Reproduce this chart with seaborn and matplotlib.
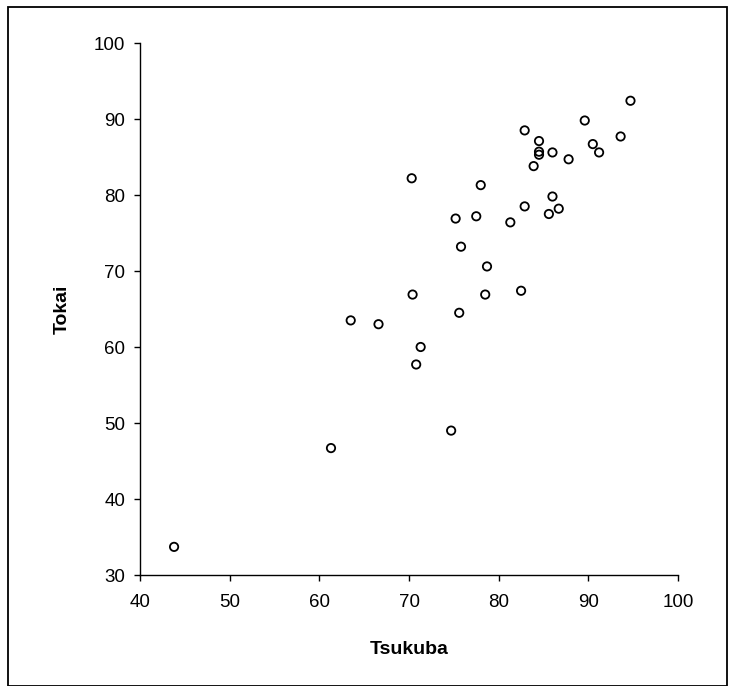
import matplotlib
matplotlib.use("Agg")
import matplotlib.pyplot as plt
import seaborn as sns
import pandas as pd
from matplotlib.patches import Rectangle

tsukuba = [43.8, 61.3, 63.5, 66.6, 70.4, 71.3, 70.8, 70.3, 74.7, 75.6,
           78.5, 82.5, 78.7, 75.8, 75.2, 77.5, 81.3, 78.0, 82.9, 86.7,
           85.6, 86.0, 83.9, 87.8, 84.5, 84.5, 84.5, 86.0, 82.9, 89.6,
           94.7, 93.6, 90.5, 91.2]
tokai = [33.7, 46.7, 63.5, 63.0, 66.9, 60.0, 57.7, 82.2, 49.0, 64.5,
         66.9, 67.4, 70.6, 73.2, 76.9, 77.2, 76.4, 81.3, 78.5, 78.2,
         77.5, 79.8, 83.8, 84.7, 87.1, 85.7, 85.3, 85.6, 88.5, 89.8,
         92.4, 87.7, 86.7, 85.6]
x_ticks = [40, 50, 60, 70, 80, 90, 100]
y_ticks = [30, 40, 50, 60, 70, 80, 90, 100]

df = pd.DataFrame({"Tsukuba": tsukuba, "Tokai": tokai})

sns.set_theme(style="ticks")
plt.rcParams["font.family"] = ["Liberation Sans", "DejaVu Sans"]

fig = plt.figure(figsize=(7.29, 6.86), dpi=100)
ax = fig.add_axes([140/729, 1-575/686, 538/729, 532/686])

sns.scatterplot(data=df, x="Tsukuba", y="Tokai", ax=ax, s=36,
                facecolor="none", edgecolor="black", linewidth=1.3)

ax.set_xlim(40, 100)
ax.set_ylim(30, 100)
ax.set_xticks(x_ticks)
ax.set_yticks(y_ticks)
ax.tick_params(axis="both", direction="out", length=4.5, width=1,
               color="black", labelsize=13.5, labelcolor="black")
ax.tick_params(axis="x", pad=9)
ax.tick_params(axis="y", pad=6)
for side in ["top", "right"]:
    ax.spines[side].set_visible(False)
for side in ["left", "bottom"]:
    ax.spines[side].set_color("black")
    ax.spines[side].set_linewidth(1)

ax.set_xlabel("Tsukuba", fontsize=14, fontweight="bold", color="black")
ax.set_ylabel("Tokai", fontsize=14, fontweight="bold", color="black")
ax.xaxis.set_label_coords(0.5, -0.124)
ax.yaxis.set_label_coords(-0.128, 0.5)

fig.patches.append(Rectangle((8/729, 0.5/686), 719/729, 679/686,
                             transform=fig.transFigure, fill=False,
                             edgecolor="black", linewidth=1.3))

fig.savefig("out.png", dpi=100, facecolor="white")
